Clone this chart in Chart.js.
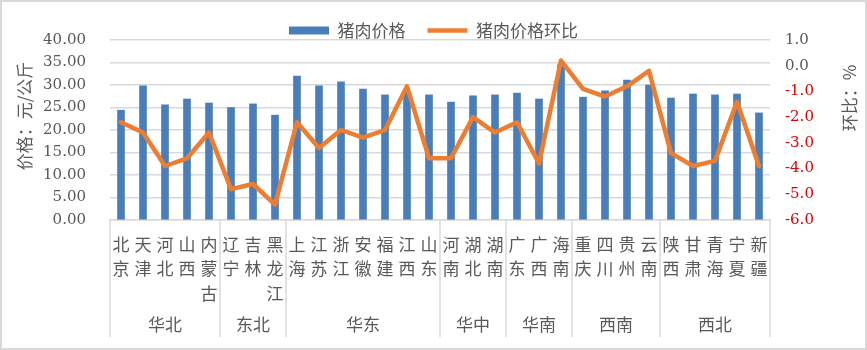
<!DOCTYPE html>
<html>
<head>
<meta charset="utf-8">
<script src="https://cdn.jsdelivr.net/npm/chart.js@4.4.1/dist/chart.umd.min.js"></script>
<style>
  html, body { margin: 0; padding: 0; background: #fff; }
  #wrap { width: 867px; height: 350px; position: relative; }
</style>
</head>
<body>
<div id="wrap"><canvas id="porkChart"></canvas></div>
<script>
const provinces = ['北京', '天津', '河北', '山西', '内蒙古', '辽宁', '吉林', '黑龙江',
  '上海', '江苏', '浙江', '安徽', '福建', '江西', '山东', '河南', '湖北', '湖南',
  '广东', '广西', '海南', '重庆', '四川', '贵州', '云南', '陕西', '甘肃', '青海', '宁夏', '新疆'];
const regionNames = ['华北', '东北', '华东', '华中', '华南', '西南', '西北'];
const regionSizes = [5, 3, 7, 3, 3, 4, 5];

// 元/公斤
const porkPrice = [24.4, 29.8, 25.6, 26.9, 26.0, 25.0, 25.8, 23.3, 32.0, 29.8,
  30.7, 29.1, 27.8, 28.3, 27.8, 26.2, 27.6, 27.8, 28.2, 26.9,
  34.5, 27.3, 28.7, 31.1, 30.0, 27.1, 28.0, 27.8, 28.0, 23.8];
// 环比 %
const porkPriceMoM = [-2.2, -2.6, -3.9, -3.6, -2.6, -4.8, -4.6, -5.4, -2.2, -3.2,
  -2.5, -2.8, -2.5, -0.8, -3.6, -3.6, -2.0, -2.6, -2.2, -3.8,
  0.2, -0.9, -1.2, -0.8, -0.2, -3.4, -3.9, -3.7, -1.4, -3.9];

const priceRange = [0, 40, 5];
const momRange = [-6, 1, 1];

const grey = '#595959';
const lineGrey = '#d9d9d9';
const cjk = '"Noto Sans CJK SC", "Noto Sans", sans-serif';
const num = '"DejaVu Serif", "Liberation Serif", serif';

// region separators, region names, axis titles and the frame
const regionPlugin = {
  id: 'regions',
  beforeInit(chart) {
    const fit = chart.legend.fit;
    chart.legend.fit = function () {
      fit.call(this);
      this.height = 40;
    };
  },
  afterDraw(chart) {
    const {ctx, chartArea, scales: {x}} = chart;
    const n = provinces.length;
    const edges = [0];
    regionSizes.forEach(s => edges.push(edges[edges.length - 1] + s));

    ctx.save();
    ctx.strokeStyle = lineGrey;
    ctx.lineWidth = 1.5;
    edges.forEach(e => {
      const px = x.getPixelForDecimal(e / n);
      ctx.beginPath();
      ctx.moveTo(px, chartArea.bottom);
      ctx.lineTo(px, 337);
      ctx.stroke();
    });

    ctx.fillStyle = grey;
    ctx.font = '17px ' + cjk;
    ctx.textAlign = 'center';
    ctx.textBaseline = 'middle';
    regionNames.forEach((name, i) => {
      const mid = (edges[i] + edges[i + 1]) / 2;
      ctx.fillText(name, x.getPixelForDecimal(mid / n), 325);
    });

    ctx.save();
    ctx.translate(25, 116);
    ctx.rotate(-Math.PI / 2);
    ctx.fillText('价格：元/公斤', 0, 0);
    ctx.restore();

    ctx.save();
    ctx.translate(850, 98);
    ctx.rotate(-Math.PI / 2);
    ctx.fillText('环比：%', 0, 0);
    ctx.restore();

    ctx.strokeStyle = lineGrey;
    ctx.lineWidth = 2;
    ctx.strokeRect(1, 1, chart.width - 2, chart.height - 2);
    ctx.restore();
  }
};

new Chart(document.getElementById('porkChart'), {
  type: 'bar',
  data: {
    labels: provinces.map(p => p.split('')),
    datasets: [{
      type: 'bar',
      label: '猪肉价格',
      data: porkPrice,
      backgroundColor: '#4a7ebb',
      borderWidth: 0,
      barThickness: 7,
      yAxisID: 'y',
      order: 1
    }, {
      type: 'line',
      label: '猪肉价格环比',
      data: porkPriceMoM,
      borderColor: '#ed7d31',
      backgroundColor: '#ed7d31',
      borderWidth: 4.5,
      borderJoinStyle: 'round',
      borderCapStyle: 'round',
      pointRadius: 0,
      tension: 0,
      yAxisID: 'y1',
      order: 0
    }]
  },
  options: {
    responsive: true,
    maintainAspectRatio: false,
    animation: false,
    layout: { padding: 0 },
    plugins: {
      tooltip: { enabled: false },
      legend: {
        position: 'top',
        labels: {
          color: grey,
          font: { family: cjk, size: 17 },
          usePointStyle: true,
          pointStyleWidth: 40,
          boxHeight: 8,
          padding: 22,
          sort: (a, b) => a.datasetIndex - b.datasetIndex,
          generateLabels(chart) {
            const items = Chart.defaults.plugins.legend.labels.generateLabels(chart);
            items.forEach(it => {
              it.pointStyle = it.datasetIndex === 0 ? 'rect' : 'line';
            });
            return items;
          }
        }
      }
    },
    scales: {
      x: {
        grid: { display: false, drawTicks: false },
        border: { display: true, color: lineGrey, width: 1.5 },
        ticks: {
          color: grey,
          font: { family: cjk, size: 17, lineHeight: 1.45 },
          padding: 12,
          autoSkip: false,
          maxRotation: 0
        },
        afterFit(scale) { scale.height = 130; }
      },
      y: {
        position: 'left',
        min: priceRange[0],
        max: priceRange[1],
        ticks: {
          stepSize: priceRange[2],
          color: grey,
          font: { family: num, size: 15 },
          padding: 24,
          callback: v => v.toFixed(2)
        },
        grid: { color: lineGrey, lineWidth: 1.5, drawTicks: false },
        border: { display: false },
        afterFit(scale) { scale.width = 110; }
      },
      y1: {
        position: 'right',
        min: momRange[0],
        max: momRange[1],
        ticks: {
          stepSize: momRange[2],
          color: c => (c.tick && c.tick.value < 0 ? '#e60000' : grey),
          font: { family: num, size: 15 },
          padding: 15,
          callback: v => v.toFixed(1)
        },
        grid: { display: false, drawTicks: false },
        border: { display: false },
        afterFit(scale) { scale.width = 97; }
      }
    }
  },
  plugins: [regionPlugin]
});
</script>
</body>
</html>
